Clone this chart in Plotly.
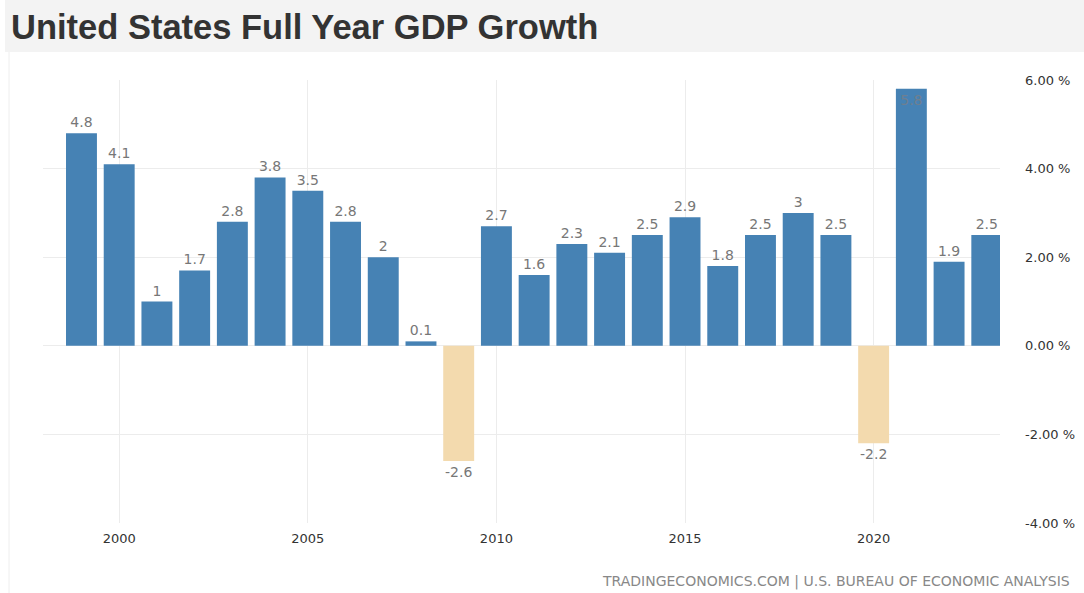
import plotly.graph_objects as go

years = list(range(1999, 2024))
growth = [4.8, 4.1, 1, 1.7, 2.8, 3.8, 3.5, 2.8, 2, 0.1, -2.6, 2.7, 1.6, 2.3, 2.1,
          2.5, 2.9, 1.8, 2.5, 3, 2.5, -2.2, 5.8, 1.9, 2.5]
labels = ["%g" % v for v in growth]
xticks = [2000, 2005, 2010, 2015, 2020]
yticks = [-4, -2, 0, 2, 4, 6]
ytext = ["%.2f %%" % v for v in yticks]

W, H = 1084, 593
L, R, T, B = 43, 84, 80, 70
pw, ph = W - L - R, H - T - B

def px_x(p):
    return (p - L) / pw

def px_y(p):
    return (H - B - p) / ph

colors = ["#4682B4" if v >= 0 else "#F3DAAE" for v in growth]
positions = ["inside" if v > 5.5 else "outside" for v in growth]

fig = go.Figure(go.Bar(
    x=years, y=growth, text=labels, textposition=positions,
    marker=dict(color=colors, line=dict(width=0)),
    textfont=dict(size=14, color="#777777", family="DejaVu Sans"),
    insidetextfont=dict(size=14, color="#6f7f90", family="DejaVu Sans"),
    outsidetextfont=dict(size=14, color="#777777", family="DejaVu Sans"),
    insidetextanchor="end", constraintext="none", cliponaxis=False,
))

fig.update_layout(
    width=W, height=H,
    margin=dict(l=L, r=R, t=T, b=B, autoexpand=False),
    paper_bgcolor="white", plot_bgcolor="white",
    bargap=0.18, showlegend=False,
    xaxis=dict(range=[1997.98, 2023.35], tickvals=xticks, showgrid=True,
               gridcolor="#ececec", gridwidth=1, zeroline=False, automargin=False,
               tickfont=dict(size=13, color="#333333", family="DejaVu Sans"),
               ticks="", showline=False, ticklabelstandoff=6),
    yaxis=dict(range=[-4, 6], tickvals=yticks, ticktext=ytext, side="right",
               showgrid=True, gridcolor="#ececec", gridwidth=1, automargin=False,
               zeroline=False, ticks="", ticklabelstandoff=24,
               tickfont=dict(size=13, color="#333333", family="DejaVu Sans")),
    shapes=[
        dict(type="rect", xref="paper", yref="paper",
             x0=px_x(5), x1=px_x(W), y0=px_y(52), y1=px_y(0),
             fillcolor="#f3f3f3", line=dict(width=0), layer="below"),
        dict(type="line", xref="paper", yref="paper",
             x0=px_x(9), x1=px_x(9), y0=px_y(H), y1=px_y(52),
             line=dict(color="#eeeeee", width=1), layer="below"),
    ],
    annotations=[
        dict(text="<b>United States Full Year GDP Growth</b>", xref="paper", yref="paper",
             x=px_x(9), y=px_y(27), xanchor="left", yanchor="middle", showarrow=False,
             font=dict(size=34.5, color="#333333", family="Liberation Sans")),
        dict(text="TRADINGECONOMICS.COM | U.S. BUREAU OF ECONOMIC ANALYSIS",
             xref="paper", yref="paper", x=px_x(1072), y=px_y(581),
             xanchor="right", yanchor="middle", showarrow=False,
             font=dict(size=14, color="#888888", family="DejaVu Sans")),
    ],
)

fig.write_html("out.html")
